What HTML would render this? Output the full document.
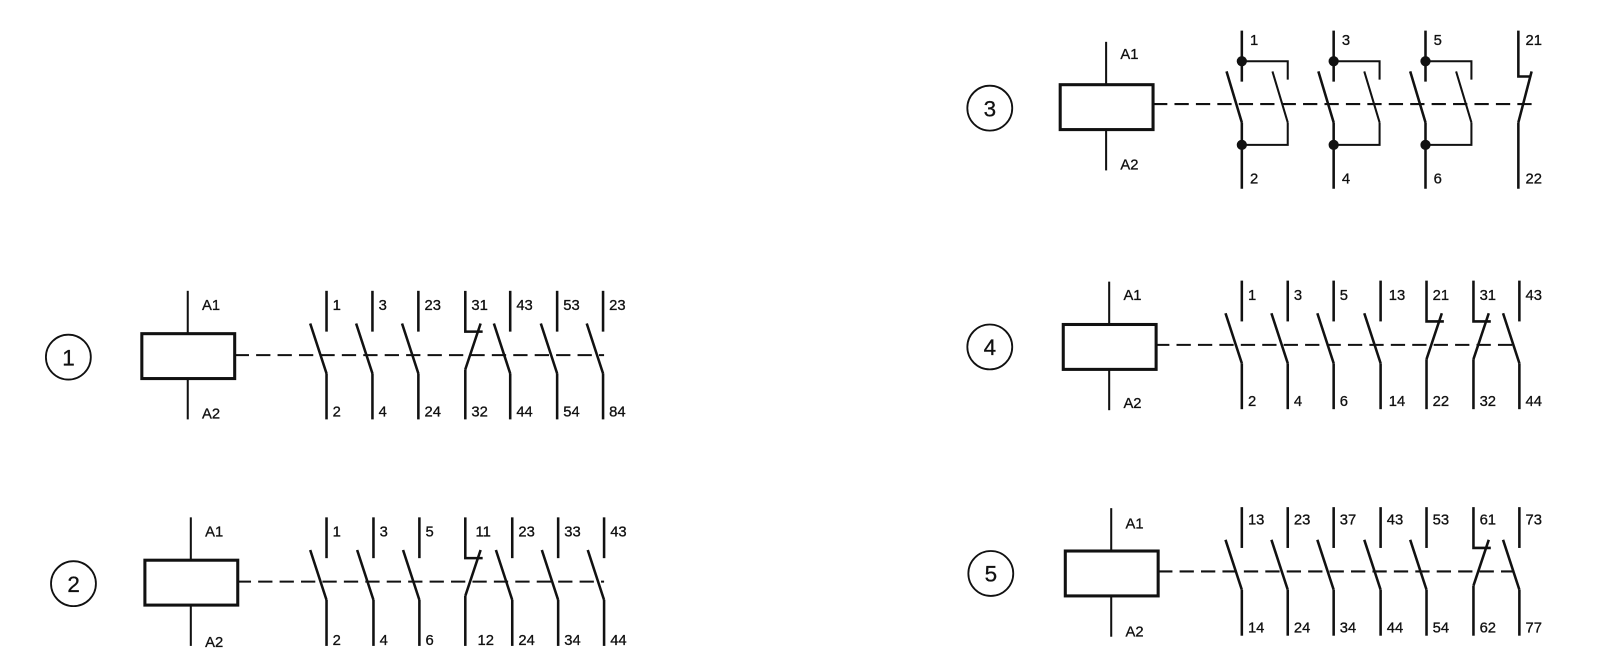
<!DOCTYPE html>
<html><head><meta charset="utf-8"><style>
html,body{margin:0;padding:0;background:#fff;}
svg{display:block;}
text{font-family:"Liberation Sans",sans-serif;font-size:14.5px;fill:#111;stroke:#111;stroke-width:0.3;}
.c{font-size:22px;}
</style></head><body>
<svg width="1599" height="664" viewBox="0 0 1599 664" xmlns="http://www.w3.org/2000/svg">
<defs>
<g id="no" stroke="#111" stroke-width="2.5" fill="none">
<line x1="0" y1="-63" x2="0" y2="-23"/><line x1="-16" y1="-31" x2="0" y2="18"/><line x1="0" y1="18" x2="0" y2="63"/>
</g>
<g id="nc" stroke="#111" stroke-width="2.5" fill="none">
<polyline points="0,-63 0,-23 17,-23"/><line x1="0" y1="14" x2="15" y2="-31"/><line x1="0" y1="14" x2="0" y2="63"/>
</g>
<g id="coil" stroke="#111" fill="none">
<rect x="-45" y="-21" width="91" height="44" stroke-width="3"/>
<line x1="0" y1="-63" x2="0" y2="-21" stroke-width="2"/><line x1="0" y1="23" x2="0" y2="63" stroke-width="2"/>
</g>
<g id="pole" stroke="#111" stroke-width="2.5" fill="none">
<line x1="0" y1="-72" x2="0" y2="-22"/>
<polyline points="0,-42 45,-42 45,-24" stroke-width="2"/>
<line x1="-15" y1="-32" x2="0" y2="18"/>
<line x1="0" y1="18" x2="0" y2="83"/>
<polyline points="0,40 45,40 45,18" stroke-width="2"/>
<line x1="30" y1="-32" x2="45" y2="18" stroke-width="2"/>
<circle cx="0" cy="-42" r="5" fill="#111" stroke="none"/>
<circle cx="0" cy="40" r="5" fill="#111" stroke="none"/>
</g>
<g id="nc3" stroke="#111" stroke-width="2.5" fill="none">
<polyline points="0,-72 0,-27 12,-27"/><line x1="0" y1="18" x2="13" y2="-32"/><line x1="0" y1="18" x2="0" y2="83"/>
</g>
</defs>
<g transform="scale(1.0204)">
<g stroke="#111" stroke-width="1.8" fill="none">
<circle cx="67" cy="350" r="22"/>
<circle cx="72" cy="572" r="22"/>
<circle cx="970" cy="106" r="22"/>
<circle cx="970" cy="340" r="22"/>
<circle cx="971" cy="562" r="22"/>
</g>
<text class="c" x="61" y="358">1</text>
<text class="c" x="66" y="580">2</text>
<text class="c" x="964" y="114">3</text>
<text class="c" x="964" y="348">4</text>
<text class="c" x="965" y="570">5</text>

<g stroke="#111" stroke-width="2" stroke-dasharray="14 7" fill="none">
<line x1="230" y1="348" x2="592" y2="348"/>
<line x1="232" y1="570" x2="592" y2="570"/>
<line x1="1130" y1="102" x2="1502" y2="102"/>
<line x1="1132" y1="338" x2="1482" y2="338"/>
<line x1="1135" y1="560" x2="1484" y2="560"/>
</g>

<use href="#coil" x="184" y="348"/>
<text x="198" y="304">A1</text><text x="198" y="410">A2</text>
<use href="#no" x="320" y="348"/><use href="#no" x="365" y="348"/><use href="#no" x="410" y="348"/>
<use href="#nc" x="456" y="348"/><use href="#no" x="500" y="348"/><use href="#no" x="546" y="348"/><use href="#no" x="591" y="348"/>
<text x="326" y="304">1</text><text x="371" y="304">3</text><text x="416" y="304">23</text><text x="462" y="304">31</text><text x="506" y="304">43</text><text x="552" y="304">53</text><text x="597" y="304">23</text>
<text x="326" y="408">2</text><text x="371" y="408">4</text><text x="416" y="408">24</text><text x="462" y="408">32</text><text x="506" y="408">44</text><text x="552" y="408">54</text><text x="597" y="408">84</text>

<use href="#coil" x="187" y="570"/>
<text x="201" y="526">A1</text><text x="201" y="634">A2</text>
<use href="#no" x="320" y="570"/><use href="#no" x="366" y="570"/><use href="#no" x="411" y="570"/>
<use href="#nc" x="456" y="570"/><use href="#no" x="502" y="570"/><use href="#no" x="547" y="570"/><use href="#no" x="592" y="570"/>
<text x="326" y="526">1</text><text x="372" y="526">3</text><text x="417" y="526">5</text><text x="466" y="526">11</text><text x="508" y="526">23</text><text x="553" y="526">33</text><text x="598" y="526">43</text>
<text x="326" y="632">2</text><text x="372" y="632">4</text><text x="417" y="632">6</text><text x="468" y="632">12</text><text x="508" y="632">24</text><text x="553" y="632">34</text><text x="598" y="632">44</text>

<use href="#coil" x="1084" y="104"/>
<text x="1098" y="58">A1</text><text x="1098" y="166">A2</text>
<use href="#pole" x="1217" y="102"/><use href="#pole" x="1307" y="102"/><use href="#pole" x="1397" y="102"/>
<use href="#nc3" x="1488" y="102"/>
<text x="1225" y="44">1</text><text x="1315" y="44">3</text><text x="1405" y="44">5</text><text x="1495" y="44">21</text>
<text x="1225" y="180">2</text><text x="1315" y="180">4</text><text x="1405" y="180">6</text><text x="1495" y="180">22</text>

<use href="#coil" x="1087" y="339"/>
<text x="1101" y="294">A1</text><text x="1101" y="400">A2</text>
<use href="#no" x="1217" y="338"/><use href="#no" x="1262" y="338"/><use href="#no" x="1307" y="338"/><use href="#no" x="1353" y="338"/>
<use href="#nc" x="1398" y="338"/><use href="#nc" x="1444" y="338"/><use href="#no" x="1489" y="338"/>
<text x="1223" y="294">1</text><text x="1268" y="294">3</text><text x="1313" y="294">5</text><text x="1361" y="294">13</text><text x="1404" y="294">21</text><text x="1450" y="294">31</text><text x="1495" y="294">43</text>
<text x="1223" y="398">2</text><text x="1268" y="398">4</text><text x="1313" y="398">6</text><text x="1361" y="398">14</text><text x="1404" y="398">22</text><text x="1450" y="398">32</text><text x="1495" y="398">44</text>

<use href="#coil" x="1089" y="561"/>
<text x="1103" y="518">A1</text><text x="1103" y="624">A2</text>
<use href="#no" x="1217" y="560"/><use href="#no" x="1262" y="560"/><use href="#no" x="1307" y="560"/><use href="#no" x="1353" y="560"/>
<use href="#no" x="1398" y="560"/><use href="#nc" x="1444" y="560"/><use href="#no" x="1489" y="560"/>
<text x="1223" y="514">13</text><text x="1268" y="514">23</text><text x="1313" y="514">37</text><text x="1359" y="514">43</text><text x="1404" y="514">53</text><text x="1450" y="514">61</text><text x="1495" y="514">73</text>
<text x="1223" y="620">14</text><text x="1268" y="620">24</text><text x="1313" y="620">34</text><text x="1359" y="620">44</text><text x="1404" y="620">54</text><text x="1450" y="620">62</text><text x="1495" y="620">77</text>
</g>
</svg>
</body></html>
